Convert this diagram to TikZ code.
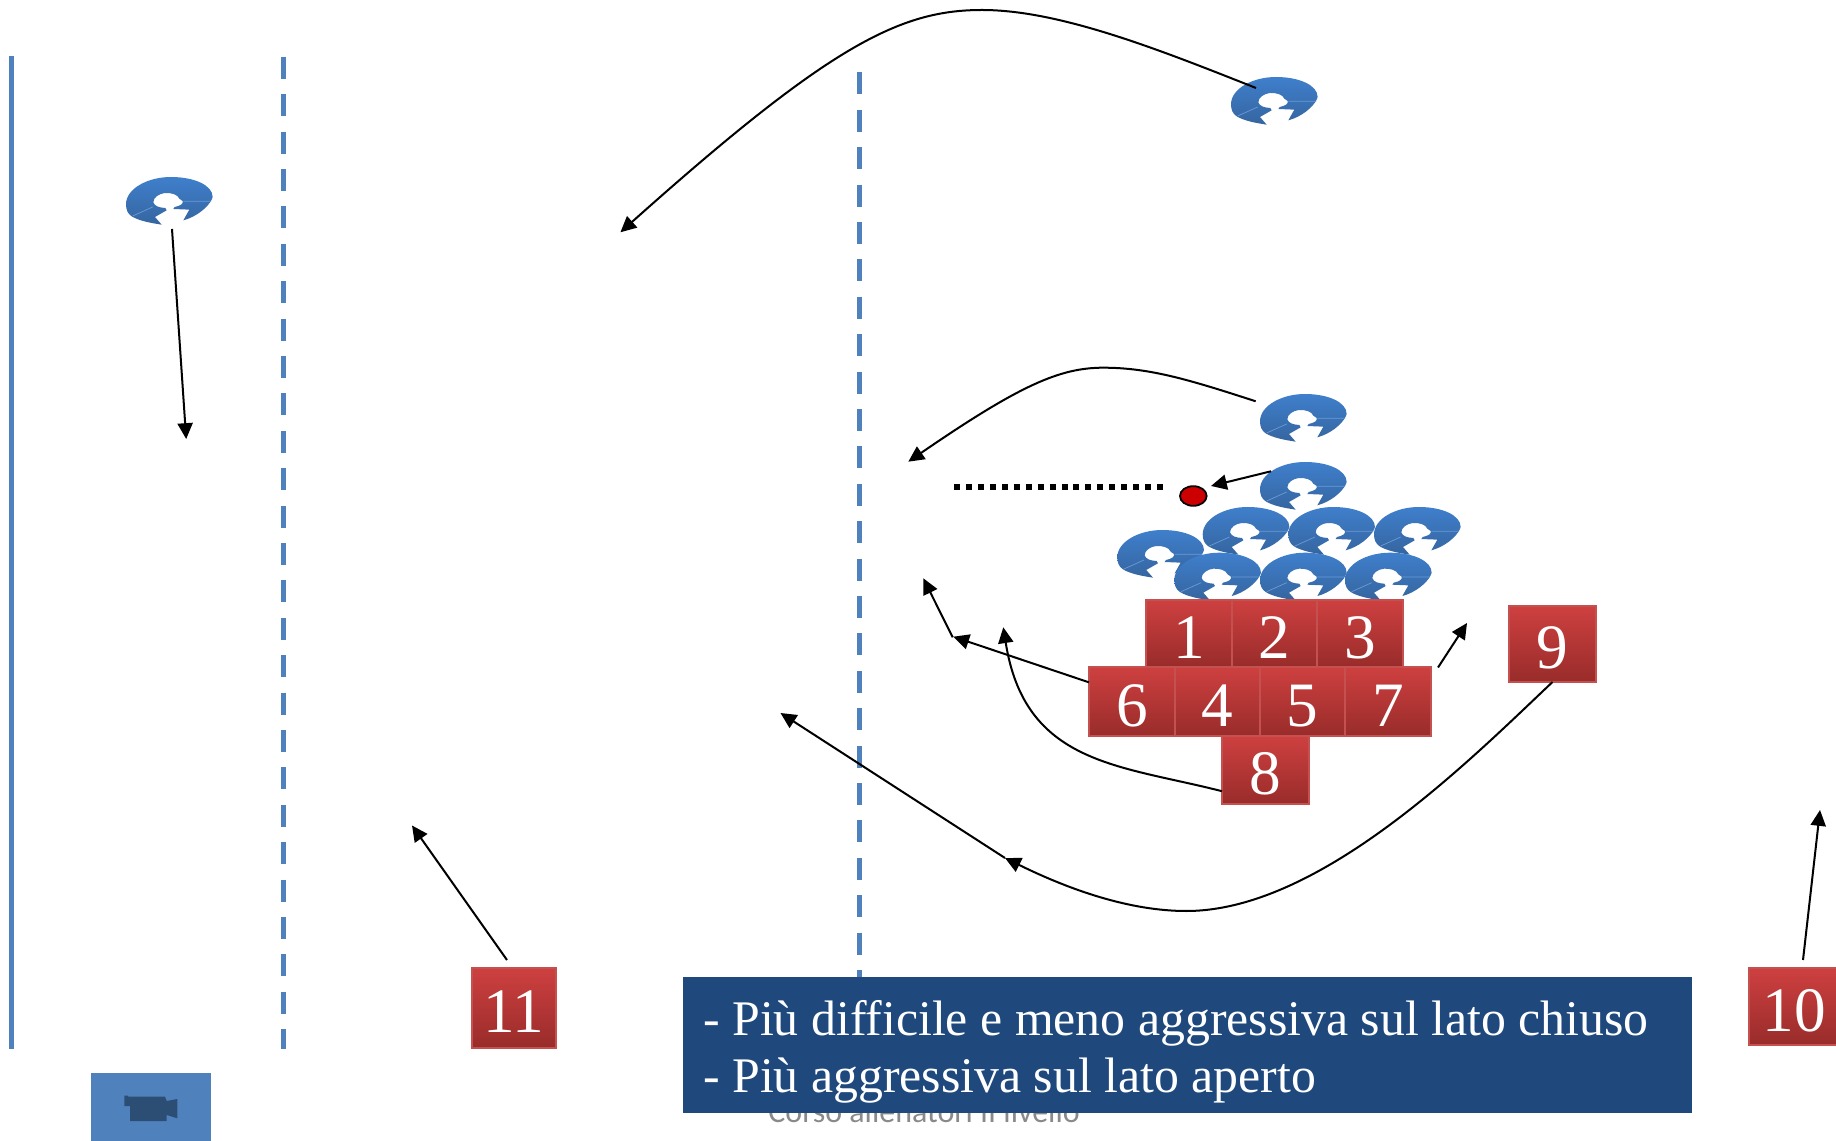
\documentclass[tikz,border=0pt]{standalone}
\usepackage{fontspec}
\setmainfont{Liberation Serif}
\newfontfamily\footfont{Carlito}
\usetikzlibrary{arrows.meta,shapes.geometric}
\definecolor{lineblue}{HTML}{4F81BD}
\definecolor{helmtop}{HTML}{3F7FCC}
\definecolor{helmbot}{HTML}{35659F}
\definecolor{helmline}{HTML}{6B9BD6}
\definecolor{redtop}{HTML}{CE4040}
\definecolor{redbot}{HTML}{982C2A}
\definecolor{redline}{HTML}{C4504F}
\definecolor{navy}{HTML}{1F497D}
\definecolor{camdark}{HTML}{2D4E74}
\definecolor{footgray}{HTML}{898989}
\newcommand{\dgt}[1]{\raisebox{-1.8pt}[0.676em][0pt]{#1}}
\tikzset{
  x=0.02cm,y=-0.02cm,
  redbox/.style={rectangle,inner sep=0pt,outer sep=0pt,draw=redline,line width=1pt,top color=redtop,bottom color=redbot,text=white,font=\fontsize{36}{36}\selectfont},
  solidline/.style={draw=lineblue,line width=3pt},
  dashline/.style={draw=lineblue,line width=3pt,dash pattern=on 12.52pt off 8.77pt},
  conn/.style={draw=black,line width=1.14pt,-{Triangle[length=9pt,width=8.6pt]}},
  helmet/.pic={
    \begin{scope}[scale=1/3]
    \shade[top color=helmtop,bottom color=helmbot]
      (107,143) .. controls (75,138) and (40,132) .. (17,118)
      .. controls (5,110) and (0,98) .. (0,82)
      .. controls (0,35) and (65,0) .. (135,0)
      .. controls (205,0) and (260,25) .. (260,60)
      -- (257,68) .. controls (245,92) and (210,120) .. (172,130)
      -- (190,98) -- (142,96) -- (146,90) .. controls (165,86) and (172,80) .. (170,72)
      -- (160,65) .. controls (155,52) and (135,47) .. (117,48)
      .. controls (98,50) and (82,62) .. (82,76)
      .. controls (86,88) and (100,92) .. (118,93)
      -- (122,100) -- (87,120) -- (107,143) -- cycle;
    \draw[helmline,line width=0.4pt] (20,117) -- (80,90) (172,73) -- (255,73);
    \end{scope}
  }
}
\begin{document}
\begin{tikzpicture}
\useasboundingbox (0,0) rectangle (1836,1141);
% field lines
\coordinate (s1) at (11.5,56);  \coordinate (s2) at (11.5,1049);
\coordinate (d1) at (283.7,56.7); \coordinate (d2) at (283.7,1049);
\coordinate (d3) at (859.7,72.3); \coordinate (d4) at (859.7,1110);
\draw[solidline] (s1) -- (s2);
\draw[dashline] (d1) -- (d2);
\draw[dashline] (d3) -- (d4);
% footer behind the caption
\node[anchor=base west,inner sep=0pt,text=footgray,font=\footfont\fontsize{18.2}{20}\selectfont] (foot) at (768,1122) {Corso allenatori II livello};
% camera box
\node[rectangle,fill=lineblue,inner sep=0pt,minimum width=68pt,minimum height=38.5pt] (cam) at (151,1107.2) {};
\fill[camdark] (124.3,1095.7) -- (128,1095.7) -- (128,1096.7) -- (165,1096.7) -- (166.7,1101) -- (177.3,1099) -- (177.3,1118.3) -- (166.7,1115) -- (166.7,1121) -- (130,1121) -- (130,1106) -- (124.3,1106) -- cycle;
% helmets
\pic (h1) at (1231,77) {helmet};
\pic (h2) at (126,177) {helmet};
\pic (h3) at (1260,394) {helmet};
\pic (h4) at (1260,462) {helmet};
\pic (h5) at (1202.7,507) {helmet};
\pic (h6) at (1288.3,507) {helmet};
\pic (h7) at (1374,507) {helmet};
\pic (h8) at (1117.3,530) {helmet};
\pic (h9) at (1174.3,552.7) {helmet};
\pic (h10) at (1260,552.7) {helmet};
\pic (h11) at (1345,552.7) {helmet};
% ball and offside line
\node[ellipse,draw=black,line width=1pt,fill=red!80!black,inner sep=0pt,minimum width=15.2pt,minimum height=11.2pt] (ball) at (1193.3,496) {};
\coordinate (lineA) at (954,486.7); \coordinate (lineB) at (1166,486.7);
\draw[black,line width=3.4pt,dash pattern=on 3.4pt off 3.4pt] (lineA) -- (lineB);
% red boxes
\foreach \n/\t/\xa/\xb/\ya/\yb in {b1/1/1146/1232/600/667,b2/2/1232/1317/600/667,b3/3/1317/1403/600/667,
  b6/6/1089/1175/667/736,b4/4/1175/1260/667/736,b5/5/1260/1345/667/736,b7/7/1345/1431/667/736,
  b8/8/1222/1309/736/804,b9/9/1509/1596/606/682,b10/10/1749/1840/968/1045,b11/11/472/556/968/1048}{
  \pgfmathsetmacro{\cx}{(\xa+\xb)/2}
  \pgfmathsetmacro{\cy}{(\ya+\yb)/2}
  \pgfmathsetmacro{\w}{(\xb-\xa)*0.5692}
  \pgfmathsetmacro{\h}{(\yb-\ya)*0.5692}
  \node[redbox,minimum width=\w pt,minimum height=\h pt] (\n) at (\cx,\cy) {\dgt{\t}};
}
% caption
\node[rectangle,fill=navy,inner sep=0pt,minimum width=574.5pt,minimum height=77.5pt] (cap) at (1187.5,1045) {};
\node[anchor=west,inner sep=0pt,text=white,align=left,font=\fontsize{28.35}{32.4}\selectfont] (captext) at (703,1051.5) {- Più difficile e meno aggressiva sul lato chiuso\\- Più aggressiva sul lato aperto};
% connector ends
\coordinate (a1s) at (1256,88);  \coordinate (a1m) at (982,10);  \coordinate (a1e) at (620.4,232.3);
\coordinate (a2s) at (172,229);   \coordinate (a2e) at (186.2,439);
\coordinate (a3s) at (1255.7,401.3); \coordinate (a3m) at (1103.3,367.7); \coordinate (a3e) at (908.3,461.7);
\coordinate (a4s) at (1271,471.3); \coordinate (a4e) at (1211,486);
\coordinate (a5e) at (953.3,636.7); \coordinate (a6s) at (952.7,637.3); \coordinate (a6e) at (923.3,578.3);
\coordinate (a7e) at (1003.3,627.3);
\coordinate (a8s) at (1438,667.5); \coordinate (a8e) at (1467,623);
\coordinate (a9n) at (1186.3,911); \coordinate (a9e) at (1005,858);
\coordinate (a10e) at (780.5,713);
\coordinate (a11s) at (1803,960); \coordinate (a11e) at (1820,810);
\coordinate (a12s) at (507,960); \coordinate (a12e) at (412,825.5);
% connectors
\draw[conn] (a1s) .. controls (1160,50) and (1060,10) .. (a1m) .. controls (900,10) and (830,45) .. (a1e);
\draw[conn] (a2s) -- (a2e);
\draw[conn] (a3s) .. controls (1190,380) and (1150,367.7) .. (a3m) .. controls (1060,367.7) and (1020,385) .. (a3e);
\draw[conn] (a4s) -- (a4e);
\draw[conn] (b6.156) -- (a5e);
\draw[conn] (a6s) -- (a6e);
\draw[conn] (b8.206) .. controls (1120,765) and (1025,765) .. (a7e);
\draw[conn] (a8s) -- (a8e);
\draw[conn] (b9.south) .. controls (1470,760) and (1320,911) .. (a9n) .. controls (1130,911) and (1070,890) .. (a9e);
\draw[conn] (a9e) -- (a10e);
\draw[conn] (a11s) -- (a11e);
\draw[conn] (a12s) -- (a12e);
\end{tikzpicture}
\end{document}
